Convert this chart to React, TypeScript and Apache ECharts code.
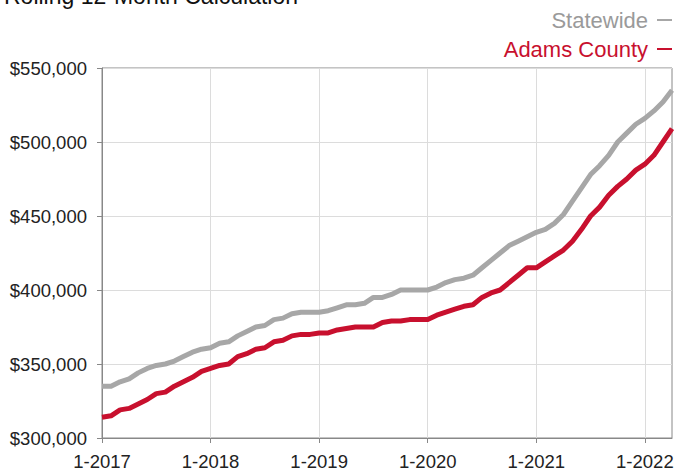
import React, { useEffect, useRef } from "react";
import * as echarts from "echarts";

const years = [2017, 2018, 2019, 2020, 2021, 2022];
const lastMonthOf2022 = 4;
const yTicks = [300000, 350000, 400000, 450000, 500000, 550000];

const statewide = [
  335000, 335000, 338000, 340000, 344000, 347000, 349000, 350000, 352000, 355000, 358000, 360000,
  361000, 364000, 365000, 369000, 372000, 375000, 376000, 380000, 381000, 384000, 385000, 385000,
  385000, 386000, 388000, 390000, 390000, 391000, 395000, 395000, 397000, 400000, 400000, 400000,
  400000, 402000, 405000, 407000, 408000, 410000, 415000, 420000, 425000, 430000, 433000, 436000,
  439000, 441000, 445000, 451000, 460000, 469000, 478000, 484000, 491000, 500000, 506000, 512000,
  516000, 521000, 527000, 535000,
];

const adamsCounty = [
  314000, 315000, 319000, 320000, 323000, 326000, 330000, 331000, 335000, 338000, 341000, 345000,
  347000, 349000, 350000, 355000, 357000, 360000, 361000, 365000, 366000, 369000, 370000, 370000,
  371000, 371000, 373000, 374000, 375000, 375000, 375000, 378000, 379000, 379000, 380000, 380000,
  380000, 383000, 385000, 387000, 389000, 390000, 395000, 398000, 400000, 405000, 410000, 415000,
  415000, 419000, 423000, 427000, 433000, 441000, 450000, 456000, 464000, 470000, 475000, 481000,
  485000, 491000, 500000, 509000,
];

const categories: string[] = [];
years.forEach((y) => {
  const n = y === 2022 ? lastMonthOf2022 : 12;
  for (let m = 1; m <= n; m++) categories.push(`${m}-${y}`);
});

const FONT = "'Liberation Sans', Arial, Helvetica, sans-serif";
const GRAY = "#a7a7a7";
const RED = "#c8102e";

export default function App() {
  const ref = useRef<HTMLDivElement>(null);
  useEffect(() => {
    if (!ref.current) return;
    const chart = echarts.init(ref.current, null, { renderer: "svg" });
    chart.setOption({
      animation: false,
      textStyle: { fontFamily: FONT },
      title: {
        text: "Rolling 12-Month Calculation",
        left: -1,
        top: -21,
        textStyle: { fontFamily: FONT, fontSize: 23, fontWeight: "normal", color: "#111" },
      },
      legend: {
        orient: "vertical",
        right: 4,
        top: 9,
        padding: 0,
        align: "right",
        icon: "rect",
        itemWidth: 15,
        itemHeight: 2,
        itemGap: 7,
        textStyle: { fontFamily: FONT, fontSize: 22, padding: [0, 4, 0, 0] },
        data: [
          { name: "Statewide", textStyle: { color: "#9a9a9a" } },
          { name: "Adams County", textStyle: { color: RED } },
        ],
      },
      grid: {
        left: 102,
        right: 4,
        top: 68,
        bottom: 30,
        show: true,
        borderColor: "#888",
        borderWidth: 1,
        outerBoundsMode: "none",
        containLabel: false,
      },
      xAxis: {
        type: "category",
        data: categories,
        boundaryGap: false,
        axisLine: { lineStyle: { color: "#888", width: 1 } },
        axisTick: { interval: 11, length: 5, lineStyle: { color: "#888" } },
        axisLabel: {
          interval: 11,
          fontFamily: FONT,
          fontSize: 18.5,
          color: "#222",
          margin: 14,
        },
        splitLine: { show: true, interval: 11, lineStyle: { color: "#dcdcdc", width: 1 } },
      },
      yAxis: {
        type: "value",
        min: yTicks[0],
        max: yTicks[yTicks.length - 1],
        interval: yTicks[1] - yTicks[0],
        axisLine: { show: true, lineStyle: { color: "#888", width: 1 } },
        axisTick: { show: true, length: 5, lineStyle: { color: "#888" } },
        axisLabel: {
          fontFamily: FONT,
          fontSize: 18.5,
          color: "#222",
          margin: 15,
          formatter: (v: number) => "$" + v.toLocaleString("en-US"),
        },
        splitLine: { show: true, lineStyle: { color: "#dcdcdc", width: 1 } },
      },
      series: [
        {
          name: "Statewide",
          type: "line",
          data: statewide,
          showSymbol: false,
          symbol: "none",
          lineStyle: { color: GRAY, width: 5, join: "round" },
          itemStyle: { color: GRAY },
        },
        {
          name: "Adams County",
          type: "line",
          data: adamsCounty,
          showSymbol: false,
          symbol: "none",
          lineStyle: { color: RED, width: 5, join: "round" },
          itemStyle: { color: RED },
        },
      ],
    });
    return () => chart.dispose();
  }, []);
  return <div ref={ref} style={{ width: 676, height: 468, position: "absolute", left: 0, top: 0 }} />;
}
